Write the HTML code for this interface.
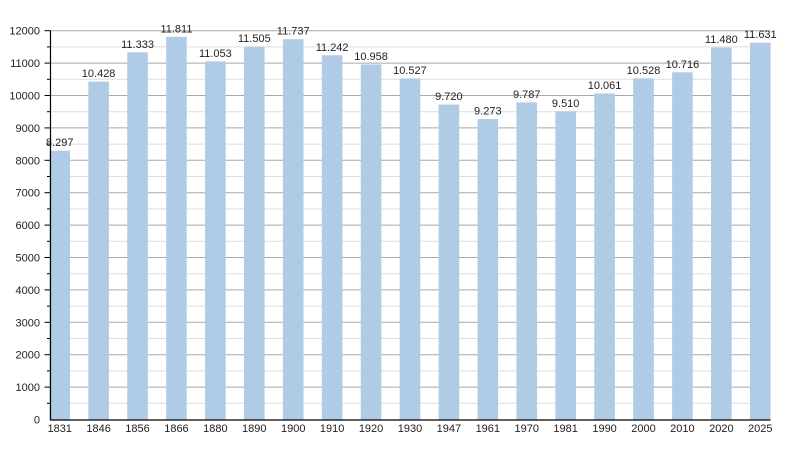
<!DOCTYPE html>
<html><head><meta charset="utf-8"><style>
html,body{margin:0;padding:0;background:#fff;}
svg{display:block;}
text{font-family:"Liberation Sans",sans-serif;font-size:11px;fill:#222;}
</style></head><body>
<svg width="800" height="450" viewBox="0 0 800 450" xmlns="http://www.w3.org/2000/svg">
<g id="grid"></g>
<g id="bars"></g>
<g id="axes"></g>
</svg>
<script>
const vals=[8297,10428,11333,11811,11053,11505,11737,11242,10958,10527,9720,9273,9787,9510,10061,10528,10716,11480,11631];
const yrs=[1831,1846,1856,1866,1880,1890,1900,1910,1920,1930,1947,1961,1970,1981,1990,2000,2010,2020,2025];
const y0=419.5, k=(419.5-30.7)/12000;
const X0=50.5, X1=770.5;
const ns="http://www.w3.org/2000/svg";
function el(t,a,p,txt){const e=document.createElementNS(ns,t);for(const q in a)e.setAttribute(q,a[q]);if(txt!==undefined)e.textContent=txt;p.appendChild(e);return e;}
const g=document.getElementById('grid'),b=document.getElementById('bars'),ax=document.getElementById('axes');
for(let v=500;v<=12000;v+=500){
 const y=y0-v*k;
 const major=v%1000===0;
 el('line',{x1:X0,x2:X1,y1:y,y2:y,stroke:major?'#a8a8a8':'#dedede','stroke-width':1},g);
 el('line',{x1:major?44.5:47,x2:X0,y1:y,y2:y,stroke:'#000','stroke-width':1},ax);
}
for(let v=0;v<=12000;v+=1000){
 const y=y0-v*k;
 el('text',{x:40,y:y+4,'text-anchor':'end'},ax,String(v));
}
vals.forEach((v,i)=>{
 const x=49.4+38.92*i, w=20.6, top=y0-v*k;
 el('rect',{x:x,y:top,width:w,height:y0-top,fill:'#b0cbe5'},b);
 const s=String(v); const lab=s.slice(0,s.length-3)+'.'+s.slice(-3);
 el('text',{x:x+w/2,y:top-4.5,'text-anchor':'middle'},ax,lab);
 el('text',{x:x+w/2,y:432,'text-anchor':'middle'},ax,String(yrs[i]));
});
el('line',{x1:X0,x2:X0,y1:30.5,y2:y0+0.5,stroke:'#000','stroke-width':1.2},ax);
el('line',{x1:X0-0.5,x2:X1,y1:y0+0.5,y2:y0+0.5,stroke:'#000','stroke-width':1.2},ax);
</script>
</body></html>
